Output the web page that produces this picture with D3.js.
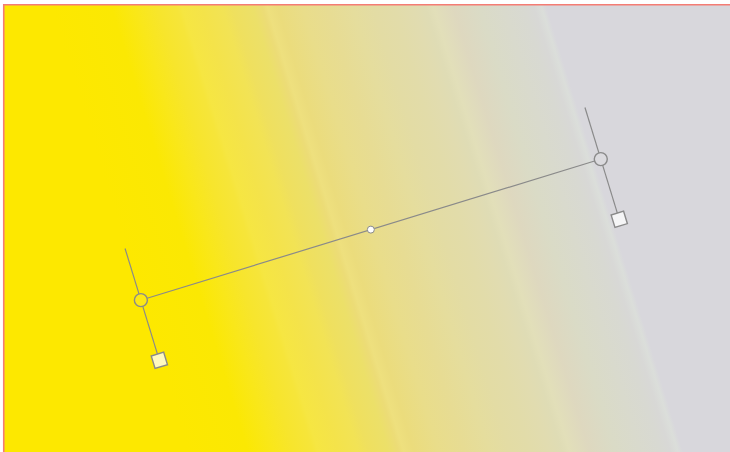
<!DOCTYPE html>
<meta charset="utf-8">
<style>
    body { margin: 0; background: #fff; }
    svg { display: block; }
    .guide { stroke: #8a8a8a; stroke-width: 1.2px; fill: none; }
</style>
<svg width="730" height="452"></svg>
<script src="https://d3js.org/d3.v7.min.js"></script>
<script>

    var svg = d3.select("svg"),
        width = +svg.attr("width"),
        height = +svg.attr("height");

    // gradient stops (offset along the handle line, colour)
    var stopOffsets = [0, 0.12, 0.17, 0.21, 0.25, 0.26, 0.3, 0.34, 0.36, 0.4, 0.42, 0.43, 0.45, 0.5,
        0.55, 0.6, 0.64, 0.68, 0.72, 0.745, 0.76, 0.8, 0.85, 0.9, 0.94, 0.96, 0.975, 0.985, 1];
    var stopColors = ["#fde800", "#fbe803", "#f9e71a", "#f7e52c", "#f6e53a", "#f6e642", "#f4e34a",
        "#f2e355", "#efe05e", "#ece069", "#ecdc76", "#eee07e", "#ebdc7c", "#e9dd8a",
        "#e7dc93", "#e5dd9d", "#e3dca4", "#e2dca9", "#e1dcb0", "#dfdcb5", "#e2dfb9", "#ded8bf",
        "#dadbc6", "#d9dacd", "#d8d9d2", "#d8d8d6", "#dbdeda", "#d8d7dc", "#d8d7dc"];

    // handle end points, as fractions of the canvas
    var handleStart = [0.193, 0.664],
        handleEnd = [0.823, 0.352];
    var stubAbove = 54, stubBelow = 63;

    var x = d3.scaleLinear().domain([0, 1]).range([0, width]),
        y = d3.scaleLinear().domain([0, 1]).range([0, height]);

    var p0 = [x(handleStart[0]), y(handleStart[1])],
        p1 = [x(handleEnd[0]), y(handleEnd[1])];

    var defs = svg.append("defs");
    var grad = defs.append("linearGradient")
        .attr("id", "fillGrad")
        .attr("gradientUnits", "userSpaceOnUse")
        .attr("x1", p0[0]).attr("y1", p0[1])
        .attr("x2", p1[0]).attr("y2", p1[1]);

    grad.selectAll("stop")
        .data(stopOffsets)
        .enter().append("stop")
        .attr("offset", function (d) { return d; })
        .attr("stop-color", function (d, i) { return stopColors[i]; });

    // canvas
    svg.append("rect")
        .attr("x", 4).attr("y", 4.5)
        .attr("width", width + 10).attr("height", height + 10)
        .style("fill", "url(#fillGrad)");

    svg.append("path")
        .attr("d", "M3.75," + (height + 2) + "V4.75H" + (width + 2))
        .style("fill", "none")
        .style("stroke", "#f47c74")
        .style("stroke-width", 1.6);

    var dx = p1[0] - p0[0], dy = p1[1] - p0[1],
        len = Math.sqrt(dx * dx + dy * dy),
        ux = dx / len, uy = dy / len,
        px = -uy, py = ux;              // perpendicular, pointing downward
    if (py < 0) { px = -px; py = -py; }

    var r = 6.5, sq = 13;
    var g = svg.append("g");

    // main line
    g.append("line").attr("class", "guide")
        .attr("x1", p0[0] + ux * r).attr("y1", p0[1] + uy * r)
        .attr("x2", p1[0] - ux * r).attr("y2", p1[1] - uy * r);

    var angle = Math.atan2(py, px) * 180 / Math.PI - 90;

    [p0, p1].forEach(function (p) {
        g.append("line").attr("class", "guide")
            .attr("x1", p[0] - px * stubAbove).attr("y1", p[1] - py * stubAbove)
            .attr("x2", p[0] - px * r).attr("y2", p[1] - py * r);
        g.append("line").attr("class", "guide")
            .attr("x1", p[0] + px * r).attr("y1", p[1] + py * r)
            .attr("x2", p[0] + px * (stubBelow - sq / 2)).attr("y2", p[1] + py * (stubBelow - sq / 2));
        g.append("circle").attr("class", "guide")
            .attr("cx", p[0]).attr("cy", p[1]).attr("r", r)
            .style("fill", "rgba(255,255,255,0.08)")
            .style("stroke-width", 1.4);
        g.append("rect").attr("class", "guide")
            .attr("x", -sq / 2).attr("y", -sq / 2)
            .attr("width", sq).attr("height", sq)
            .attr("transform", "translate(" + (p[0] + px * stubBelow) + "," + (p[1] + py * stubBelow) + ") rotate(" + angle + ")")
            .style("fill", "rgba(255,255,255,0.75)")
            .style("stroke-width", 1.4);
    });

    // midpoint
    g.append("circle").attr("class", "guide")
        .attr("cx", (p0[0] + p1[0]) / 2).attr("cy", (p0[1] + p1[1]) / 2)
        .attr("r", 3.5)
        .style("fill", "#fff")
        .style("stroke-width", 1);

</script>
